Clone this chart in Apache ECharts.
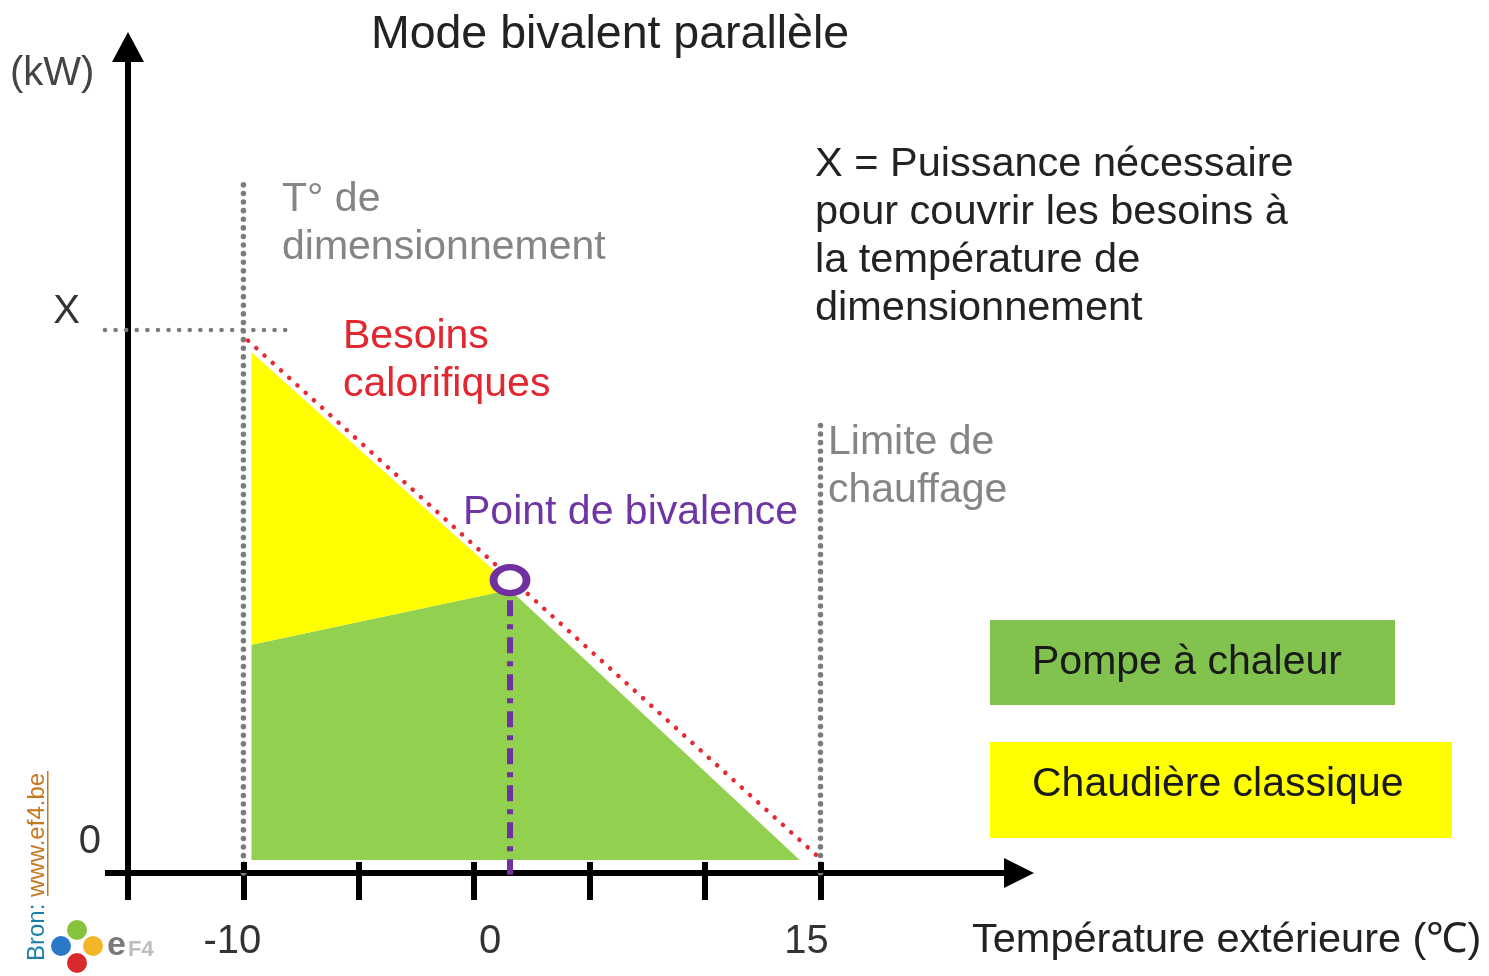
<!DOCTYPE html>
<html>
<head>
<meta charset="utf-8">
<script src="https://cdn.jsdelivr.net/npm/echarts@6/dist/echarts.min.js"></script>
<style>
html,body{margin:0;padding:0;background:#fff;}
#chart{width:1489px;height:976px;}
</style>
</head>
<body>
<div id="chart"></div>
<script>
// ---- data ----
const xTickValues = [-15, -10, -5, 0, 5, 10, 15];
const xInnerTickValues = [-10, -5, 0, 5, 10, 15];
const xLabelValues = [-10, 0, 15];
const yLabelValues = [0, 10];          // 10 = "X"
const yLabelTexts = {0: '0', 10: 'X'};
const heatPumpArea = [[-9.65, 0], [-9.65, 4.06], [1.55, 5.1], [14.1, 0]];
const boilerArea = [[-9.65, 9.58], [1.4, 5.25], [1.55, 5.1], [-9.65, 4.06]];
const heatDemand = [[-9.8, 9.8], [14.8, 0.1]];
const designTempLine = [[-10, 12.74], [-10, -0.245]];
const heatLimitLine = [[15, 8.2], [15, -0.245]];
const xLevelLine = [[-16, 10], [-7.75, 10]];
const bivalencePoint = [[1.55, 5.28]];
const bivalenceDrop = [[1.55, 4.9], [1.55, -0.28]];

const FONT = "'Liberation Sans', Arial, sans-serif";
const chart = echarts.init(document.getElementById('chart'), null, {renderer: 'canvas'});

function polyRender(points, color) {
  return function (params, api) {
    return {
      type: 'polygon',
      shape: {points: points.map(function (p) { return api.coord(p); })},
      style: {fill: color}
    };
  };
}
function dottedRender(points, color, width, dash) {
  return function (params, api) {
    return {
      type: 'polyline',
      shape: {points: points.map(function (p) { return api.coord(p); })},
      style: {stroke: color, lineWidth: width, lineDash: dash, lineCap: 'round', fill: null}
    };
  };
}

function txt(x, yTop, text, size, color, extra) {
  return Object.assign({
    type: 'text', x: x, y: yTop, silent: true,
    style: {text: text, font: size + 'px ' + FONT, fill: color, lineHeight: 48,
      textVerticalAlign: 'top', verticalAlign: 'top'}
  }, extra || {});
}

const option = {
  animation: false,
  backgroundColor: '#fff',
  grid: {left: 128, top: 47, width: 891, height: 826},
  xAxis: [{
    type: 'value', min: -15, max: 23.6, position: 'bottom',
    axisLine: {show: true, onZero: false, lineStyle: {color: '#000', width: 6},
      symbol: ['none', 'triangle'], symbolSize: [30, 30]},
    axisTick: {show: true, customValues: xTickValues, length: 27, lineStyle: {color: '#000', width: 6}},
    splitLine: {show: false},
    axisLabel: {
      show: true, customValues: xLabelValues, margin: 49, color: '#333',
      fontFamily: FONT, fontSize: 40,
      formatter: function (v) {
        if (v === -10) return '{a|-10}';
        if (v === 0) return '{b|0}';
        return '{c|' + v + '}';
      },
      rich: {
        a: {fontSize: 40, fontFamily: FONT, color: '#333', padding: [0, 22, 0, 0]},
        b: {fontSize: 40, fontFamily: FONT, color: '#333', padding: [0, 0, 0, 32]},
        c: {fontSize: 40, fontFamily: FONT, color: '#333', padding: [0, 28, 0, 0]}
      }
    }
  }, {
    type: 'value', min: -15, max: 23.6, position: 'bottom', offset: 0, z: 5,
    axisLine: {show: false, onZero: false},
    axisTick: {show: true, inside: true, customValues: xInnerTickValues, length: 11, lineStyle: {color: '#000', width: 6}},
    axisLabel: {show: false},
    splitLine: {show: false}
  }],
  yAxis: {
    type: 'value', min: -0.245, max: 15.34,
    axisLine: {show: true, onZero: false, lineStyle: {color: '#000', width: 6},
      symbol: ['none', 'triangle'], symbolSize: [32, 30]},
    axisTick: {show: true, customValues: [-0.245], length: 23, lineStyle: {color: '#000', width: 6}},
    splitLine: {show: false},
    axisLabel: {
      show: true, customValues: yLabelValues, margin: 27, verticalAlign: 'bottom', lineHeight: 36,
      formatter: function (v) { return v === 0 ? '{z|' + yLabelTexts[0] + '}' : '{x|' + yLabelTexts[10] + '}'; },
      rich: {
        z: {fontSize: 40, fontFamily: FONT, color: '#333', lineHeight: 36},
        x: {fontSize: 40, fontFamily: FONT, color: '#333', lineHeight: 36, padding: [0, 21, 0, 0]}
      }
    }
  },
  series: [
    {type: 'custom', name: 'Pompe à chaleur', renderItem: polyRender(heatPumpArea, '#92d050'), data: [[0, 0]], z: 1, silent: true},
    {type: 'custom', name: 'Chaudière classique', renderItem: polyRender(boilerArea, '#ffff00'), data: [[0, 0]], z: 1, silent: true},
    {type: 'custom', name: 'design', renderItem: dottedRender(designTempLine, '#7c7c7c', 5.5, [0.1, 8.5]), data: [[0, 0]], z: 3, clip: false, silent: true},
    {type: 'custom', name: 'limit', renderItem: dottedRender(heatLimitLine, '#7c7c7c', 5.5, [0.1, 8.5]), data: [[0, 0]], z: 3, clip: false, silent: true},
    {type: 'custom', name: 'xlevel', renderItem: dottedRender(xLevelLine, '#7c7c7c', 4.5, [0.1, 10.5]), data: [[0, 0]], z: 3, clip: false, silent: true},
    {type: 'line', name: 'Besoins calorifiques', data: heatDemand, symbol: 'none', z: 4, silent: true,
      lineStyle: {color: '#e62a35', width: 4.5, type: [0.1, 11], cap: 'round'}},
    {type: 'line', name: 'drop', data: bivalenceDrop, symbol: 'none', z: 5, clip: false, silent: true,
      lineStyle: {color: '#7030a0', width: 6, type: [16, 8, 5, 8]}},
    {type: 'scatter', name: 'Point de bivalence', data: bivalencePoint, symbol: 'circle', symbolSize: [33, 26], z: 6, silent: true,
      itemStyle: {color: '#ffffff', borderColor: '#7030a0', borderWidth: 7, opacity: 1}}
  ],
  graphic: {elements: [
    {type: 'text', x: 610, y: 12, silent: true,
      style: {text: 'Mode bivalent parallèle', font: '46.5px ' + FONT, fill: '#222',
        textAlign: 'center', align: 'center', textVerticalAlign: 'top', verticalAlign: 'top'}},
    txt(10, 50, '(kW)', 40, '#444'),
    txt(282, 176, 'T° de\ndimensionnement', 41, '#858585'),
    txt(343, 313, 'Besoins\ncalorifiques', 41, '#e3262f'),
    txt(463, 489, 'Point de bivalence', 41, '#6f35a5'),
    txt(828, 419, 'Limite de\nchauffage', 41, '#858585'),
    txt(815, 141, 'X = Puissance nécessaire\npour couvrir les besoins à\nla température de\ndimensionnement', 41.5, '#222'),
    {type: 'rect', shape: {x: 990, y: 620, width: 405, height: 85}, style: {fill: '#82c350'}, silent: true},
    {type: 'rect', shape: {x: 990, y: 742, width: 462, height: 96}, style: {fill: '#ffff00'}, silent: true},
    txt(1032, 639, 'Pompe à chaleur', 41, '#1a1a1a'),
    txt(1032, 761, 'Chaudière classique', 41, '#1a1a1a'),
    txt(972, 917, 'Température extérieure (℃)', 41.5, '#222'),
    {type: 'group', x: 37, y: 961, rotation: Math.PI / 2, silent: true, children: [
      {type: 'text', x: 0, y: 0,
        style: {text: '{a|Bron: }{b|www.ef4.be}', font: '24px ' + FONT,
          textVerticalAlign: 'middle', verticalAlign: 'middle',
          rich: {a: {fill: '#1b7ea8', color: '#1b7ea8', fontSize: 24, fontFamily: FONT},
                 b: {fill: '#c8781e', color: '#c8781e', fontSize: 24, fontFamily: FONT}}}},
      {type: 'rect', shape: {x: 65, y: 10, width: 125, height: 1.5}, style: {fill: '#c8781e'}}
    ]},
    {type: 'circle', shape: {cx: 77, cy: 930, r: 10}, style: {fill: '#86c23c'}, silent: true},
    {type: 'circle', shape: {cx: 61, cy: 946, r: 10}, style: {fill: '#2a78c8'}, silent: true},
    {type: 'circle', shape: {cx: 93, cy: 946, r: 10}, style: {fill: '#f2b526'}, silent: true},
    {type: 'circle', shape: {cx: 77, cy: 963, r: 10}, style: {fill: '#d82a2a'}, silent: true},
    {type: 'text', x: 107, y: 946, silent: true,
      style: {text: 'e', font: 'bold 34px ' + FONT, fill: '#7a7a7a', textVerticalAlign: 'middle', verticalAlign: 'middle'}},
    {type: 'text', x: 128, y: 950, silent: true,
      style: {text: 'F4', font: 'bold 22px ' + FONT, fill: '#bdbdbd', textVerticalAlign: 'middle', verticalAlign: 'middle'}}
  ]}
};
chart.setOption(option);
</script>
</body>
</html>
